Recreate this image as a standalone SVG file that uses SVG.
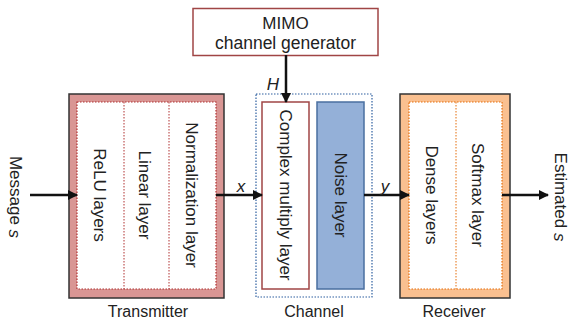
<svg xmlns="http://www.w3.org/2000/svg" width="569" height="320" viewBox="0 0 569 320">
<defs>
<marker id="ah" markerWidth="10" markerHeight="10" refX="9" refY="5" orient="auto" markerUnits="userSpaceOnUse"><path d="M0,0 L10,5 L0,10 z" fill="#111"/></marker>
<style>
text{font-family:"Liberation Sans",Arial,sans-serif;font-size:17px;fill:#222}
.lbl{font-size:16px}
.it{font-style:italic}
.edge{stroke:#111;stroke-width:2.5;fill:none;marker-end:url(#ah)}
.c{text-anchor:middle;dominant-baseline:central}
</style>
</defs>
<rect width="569" height="320" fill="#fff"/>
<g id="mimo">
<rect x="193" y="8.5" width="185" height="47" fill="#fff" stroke="#a04545" stroke-width="1.5"/>
<text x="285.5" y="23" class="c">MIMO</text>
<text x="285.5" y="43" class="c" style="font-size:17.5px">channel generator</text>
</g>
<g id="transmitter">
<rect x="69" y="94" width="155" height="204" fill="#d99694" stroke="#333" stroke-width="1.5"/>
<rect x="77" y="102" width="139" height="187" fill="#fff" stroke="#b03030" stroke-width="1.2" stroke-dasharray="1.5,1.5"/>
<line x1="124" y1="102" x2="124" y2="289" stroke="#b03030" stroke-width="1" stroke-dasharray="1.5,1.5"/>
<line x1="169" y1="102" x2="169" y2="289" stroke="#b03030" stroke-width="1" stroke-dasharray="1.5,1.5"/>
<text class="c" transform="translate(99,195) rotate(90)">ReLU layers</text>
<text class="c" transform="translate(144,195) rotate(90)">Linear layer</text>
<text class="c" transform="translate(191,195) rotate(90)">Normalization layer</text>
<text x="148" y="311" class="c lbl">Transmitter</text>
</g>
<g id="channel">
<rect x="256" y="94" width="116" height="203" fill="#fff" stroke="#2e5fa0" stroke-width="1.2" stroke-dasharray="1.5,1.5"/>
<rect x="262" y="102" width="47" height="187" fill="#fff" stroke="#a04545" stroke-width="1.5"/>
<rect x="317" y="102" width="47" height="187" fill="#94b0d8" stroke="#4a6fa0" stroke-width="1.5"/>
<text class="c" transform="translate(285.5,195) rotate(90)">Complex multiply layer</text>
<text class="c" transform="translate(340.5,195) rotate(90)">Noise layer</text>
<text x="314" y="311" class="c lbl">Channel</text>
</g>
<g id="receiver">
<rect x="400" y="94" width="110" height="204" fill="#fac090" stroke="#333" stroke-width="1.5"/>
<rect x="409" y="102" width="93" height="187" fill="#fff" stroke="#e46c0a" stroke-width="1.2" stroke-dasharray="1.5,1.5"/>
<line x1="456" y1="102" x2="456" y2="289" stroke="#e46c0a" stroke-width="1" stroke-dasharray="1.5,1.5"/>
<text class="c" transform="translate(431,195) rotate(90)">Dense layers</text>
<text class="c" transform="translate(477,195) rotate(90)">Softmax layer</text>
<text x="454" y="311" class="c lbl">Receiver</text>
</g>
<g id="message">
<text class="c" transform="translate(15,197) rotate(90)">Message <tspan class="it">s</tspan></text>
</g>
<g id="estimated">
<text class="c" transform="translate(560,197) rotate(90)">Estimated <tspan class="it">s</tspan></text>
</g>
<g id="connectors">
<line class="edge" x1="30" y1="195" x2="77" y2="195"/>
<line class="edge" x1="216" y1="195" x2="262" y2="195"/>
<line class="edge" x1="364" y1="195" x2="409" y2="195"/>
<line class="edge" x1="502" y1="195" x2="548" y2="195"/>
<line class="edge" x1="286" y1="55" x2="286" y2="102"/>
<text x="273" y="84" class="c it">H</text>
<text x="241" y="186" class="c it">x</text>
<text x="385" y="186" class="c it">y</text>
</g>
</svg>
